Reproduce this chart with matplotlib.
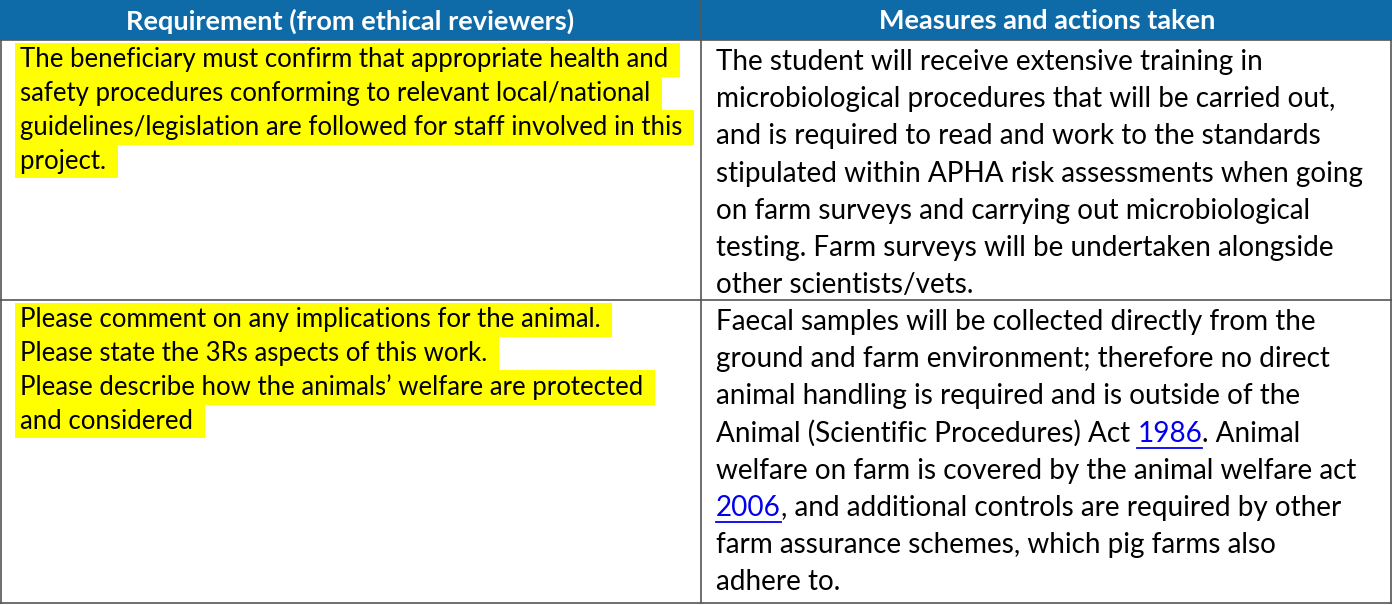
import matplotlib
matplotlib.use("Agg")
import matplotlib.pyplot as plt
from matplotlib.patches import Rectangle

headers = ["Requirement (from ethical reviewers)", "Measures and actions taken"]
left_rows = [
    ["The beneficiary must confirm that appropriate health and ",
     "safety procedures conforming to relevant local/national ",
     "guidelines/legislation are followed for staff involved in this ",
     "project. "],
    ["Please comment on any implications for the animal. ",
     "Please state the 3Rs aspects of this work. ",
     "Please describe how the animals\u2019 welfare are protected ",
     "and considered "],
]
# each line: list of (text, is_link)
right_rows = [
    [[("The student will receive extensive training in", 0)],
     [("microbiological procedures that will be carried out,", 0)],
     [("and is required to read and work to the standards", 0)],
     [("stipulated within APHA risk assessments when going", 0)],
     [("on farm surveys and carrying out microbiological", 0)],
     [("testing. Farm surveys will be undertaken alongside", 0)],
     [("other scientists/vets.", 0)]],
    [[("Faecal samples will be collected directly from the", 0)],
     [("ground and farm environment; therefore no direct", 0)],
     [("animal handling is required and is outside of the", 0)],
     [("Animal (Scientific Procedures) Act ", 0), ("1986", 1), (". Animal", 0)],
     [("welfare on farm is covered by the animal welfare act", 0)],
     [("2006", 1), (", and additional controls are required by other", 0)],
     [("farm assurance schemes, which pig farms also", 0)],
     [("adhere to.", 0)]],
]

W, H = 1392, 605
fig = plt.figure(figsize=(W/100, H/100), dpi=100)
ax = fig.add_axes([0, 0, 1, 1])
ax.set_xlim(0, W); ax.set_ylim(H, 0); ax.axis("off")
FONT = "Lato"
blue = "#0F6BA8"
ax.add_patch(Rectangle((0, 0), W, 40, color=blue, lw=0))
ax.text(350, 21, headers[0], ha="center", va="center", color="white", fontsize=19.5, fontweight="bold", family=FONT)
ax.text(1047, 21, headers[1], ha="center", va="center", color="white", fontsize=19.5, fontweight="bold", family=FONT)

for y in [40, 300, 603]:
    ax.plot([0, W], [y, y], color="#555555", lw=1.2)
ax.plot([1, 1], [40, 603], color="#555555", lw=1.2)
ax.plot([W-1.5, W-1.5], [40, 603], color="#555555", lw=1.2)
ax.plot([701, 701], [0, 603], color="#555555", lw=1.2)

row_top = [40, 300]
renderer = fig.canvas.get_renderer()
inv = ax.transData.inverted()
for r in range(2):
    for i, line in enumerate(left_rows[r]):
        y = row_top[r] + 20 + i*33.7
        ax.text(20, y, line, ha="left", va="center", fontsize=18.5, family=FONT, color="black",
                bbox=dict(facecolor="#FFFF00", edgecolor="none", pad=3.5))
    for i, parts in enumerate(right_rows[r]):
        y = row_top[r] + 22 + i*37.2
        x = 716
        for txt, link in parts:
            t = ax.text(x, y, txt, ha="left", va="center", fontsize=20.1, family=FONT,
                        color="#0000EE" if link else "black")
            bb = t.get_window_extent(renderer=renderer)
            (x0, _), (x1, _) = inv.transform([[bb.x0, bb.y0], [bb.x1, bb.y0]])
            if link:
                ax.plot([x0, x1], [y + 14, y + 14], color="#0000EE", lw=1.3)
            x = x1

fig.savefig("out.png", dpi=100)
